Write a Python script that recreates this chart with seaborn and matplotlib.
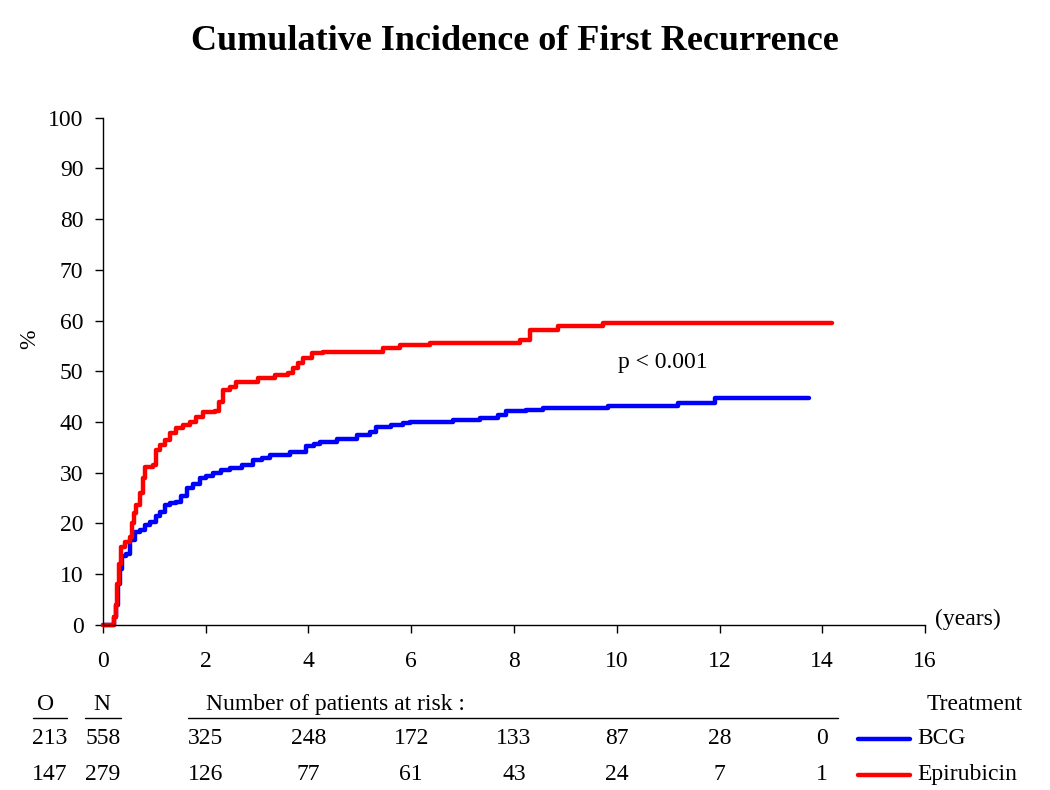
import pandas as pd
import matplotlib
matplotlib.use('Agg')
import matplotlib.pyplot as plt
import matplotlib.transforms as mtransforms
import seaborn as sns

# step points (years, cumulative %)
bcg_t = [0, 0.22, 0.26, 0.30, 0.34, 0.38, 0.45, 0.53, 0.62, 0.72,
         0.82, 0.92, 1.04, 1.12, 1.2, 1.3, 1.43, 1.52, 1.63, 1.75,
         1.89, 2.0, 2.14, 2.3, 2.47, 2.7, 2.92, 3.1, 3.25, 3.64,
         3.96, 4.1, 4.22, 4.55, 4.94, 5.2, 5.32, 5.6, 5.84, 5.97,
         6.81, 7.33, 7.68, 7.85, 8.24, 8.56, 9.83, 11.19, 11.91, 13.75]
bcg_v = [0, 1.5, 4, 8, 11, 13.5, 14, 16.8, 18.4, 18.8,
         19.7, 20.2, 21.4, 22.2, 23.7, 24, 24.3, 25.5, 27, 27.8,
         28.9, 29.3, 30, 30.5, 31, 31.5, 32.5, 33, 33.5, 34,
         35.2, 35.6, 36, 36.6, 37.5, 38, 39.1, 39.5, 39.9, 40.1,
         40.4, 40.8, 41.4, 42.1, 42.4, 42.7, 43.1, 43.7, 44.7, 44.7]

epi_t = [0, 0.17, 0.21, 0.25, 0.28, 0.32, 0.36, 0.43, 0.53, 0.56,
         0.6, 0.65, 0.72, 0.78, 0.82, 0.98, 1.04, 1.12, 1.2, 1.3,
         1.43, 1.55, 1.69, 1.82, 1.95, 2.18, 2.25, 2.34, 2.47, 2.6,
         3.02, 3.35, 3.6, 3.7, 3.8, 3.9, 4.06, 4.28, 5.45, 5.78,
         6.36, 8.11, 8.31, 8.85, 9.73, 14.18]
epi_v = [0, 0, 1.5, 4, 8, 12, 15.4, 16.4, 17.4, 20,
         22, 23.7, 26, 29, 31.2, 31.6, 34.5, 35.5, 36.5, 37.8,
         38.8, 39.5, 40.1, 41, 41.9, 42.1, 44, 46.4, 47, 47.8,
         48.7, 49.3, 49.6, 50.6, 51.6, 52.6, 53.6, 53.9, 54.6, 55.2,
         55.6, 56.2, 58.2, 59, 59.6, 59.6]

groups = ['BCG', 'Epirubicin']
observed = [213, 147]
n_total = [558, 279]
risk_times = [2, 4, 6, 8, 10, 12, 14]
at_risk_bcg = [325, 248, 172, 133, 87, 28, 0]
at_risk_epi = [126, 77, 61, 43, 24, 7, 1]
colors = {'BCG': '#0000ff', 'Epirubicin': '#ff0000'}

df = pd.concat([
    pd.DataFrame({'years': bcg_t, 'pct': bcg_v, 'Treatment': 'BCG'}),
    pd.DataFrame({'years': epi_t, 'pct': epi_v, 'Treatment': 'Epirubicin'}),
])

sns.set_style('ticks')
plt.rcParams['font.family'] = ['Liberation Serif', 'DejaVu Serif']
plt.rcParams['text.color'] = 'black'
FS = 17

fig = plt.figure(figsize=(10.5, 7.9), dpi=100)
ax = fig.add_axes([0.098, 0.209, 0.783, 0.642])

sns.lineplot(data=df, x='years', y='pct', hue='Treatment', hue_order=groups,
             palette=colors, drawstyle='steps-post', estimator=None, sort=False,
             linewidth=3.2, legend=False, clip_on=False, ax=ax)

ax.set_xlim(0, 16)
ax.set_ylim(0, 100)
ax.set_xticks(range(0, 17, 2))
ax.set_yticks(range(0, 101, 10))
ax.set_xlabel('')
ax.set_ylabel('')
sns.despine(ax=ax)
for s in ['left', 'bottom']:
    ax.spines[s].set_linewidth(1.0)
    ax.spines[s].set_color('black')
ax.tick_params(axis='both', direction='out', length=6, width=1, labelsize=FS,
               colors='black', labelcolor='black')
ax.tick_params(axis='x', pad=13)
ax.tick_params(axis='y', pad=8)

ax.text(10.9, 51.7, 'p < 0.001', fontsize=FS, ha='center', va='center')
ax.text(16.2, 1, '(years)', fontsize=FS, ha='left', va='center')
fig.text(0.028, 0.57, '%', fontsize=FS, rotation=90, ha='center', va='center')
fig.text(0.49, 0.947, 'Cumulative Incidence of First Recurrence',
         fontsize=26, fontweight='bold', ha='center', va='center')

# numbers at risk table
tr = mtransforms.blended_transform_factory(ax.transData, fig.transFigure)
y_head, y_rows = 0.108, [0.065, 0.019]
fig.text(0.043, y_head, 'O', fontsize=FS, ha='center', va='center')
fig.text(0.097, y_head, 'N', fontsize=FS, ha='center', va='center')
fig.text(0.196, y_head, 'Number of patients at risk :', fontsize=FS, ha='left', va='center')
fig.text(0.974, y_head, 'Treatment', fontsize=FS, ha='right', va='center')
for x0, x1 in [(0.031, 0.064), (0.081, 0.115), (0.179, 0.798)]:
    fig.add_artist(plt.Line2D([x0, x1], [0.091, 0.091], color='black', lw=1))

for i, (g, risk) in enumerate(zip(groups, [at_risk_bcg, at_risk_epi])):
    y = y_rows[i]
    fig.text(0.047, y, str(observed[i]), fontsize=FS, ha='center', va='center')
    fig.text(0.098, y, str(n_total[i]), fontsize=FS, ha='center', va='center')
    for t, r in zip(risk_times, risk):
        ax.text(t, y, str(r), fontsize=FS, ha='center', va='center',
                transform=tr, clip_on=False)
    fig.add_artist(plt.Line2D([0.817, 0.867], [y, y], color=colors[g], lw=3.2))
    fig.text(0.874, y, g, fontsize=FS, ha='left', va='center')

fig.savefig('out.png', dpi=100)
